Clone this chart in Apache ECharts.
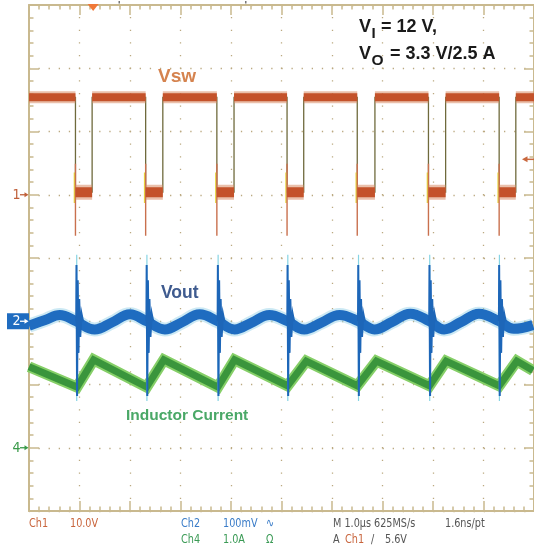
<!DOCTYPE html>
<html>
<head>
<meta charset="utf-8">
<script src="https://cdn.jsdelivr.net/npm/echarts@6/dist/echarts.min.js"></script>
<style>
  html, body { margin: 0; padding: 0; background: #fff; }
  #scope { width: 534px; height: 550px; }
</style>
</head>
<body>
<div id="scope"></div>
<script>
// time base: 1 us/div, 10 divisions across; 8 divisions tall (-4..4)

// Ch1 = Vsw, 10 V/div, ground marker 1 div above centre
const ch1Offset = 1, ch1Scale = 10;
const vswHigh = 15.4, vswLow = 0.4;
const vswFallT = [0.92, 2.31, 3.72, 5.11, 6.50, 7.91, 9.31];
const vswRiseT = [1.25, 2.65, 4.06, 5.44, 6.85, 8.25, 9.64];
const vswSpikeTop = 4.9, vswSpikeBottom = -6.5;
const vswYellowTop = 3.5, vswYellowBottom = -1.3;
const trigLevel = 5.6, trigTime = 1.27;

// Ch2 = Vout ripple, 100 mV/div, marker 1 div below centre
const ch2Offset = -1, ch2Scale = 100;
const voutT  = [0.00, 0.32, 0.61, 0.93, 1.30, 1.64, 2.00, 2.33, 2.69, 3.02, 3.38, 3.74, 4.07, 4.41, 4.76,
                5.12, 5.45, 5.79, 6.15, 6.52, 6.84, 7.19, 7.55, 7.93, 8.22, 8.56, 8.91, 9.31, 9.60, 9.98];
const voutMv = [-7, 2, 10, 0, -13, -2, 11, 0, -13, -2, 11, 0, -13, -2, 10,
                0, -13, -2, 10, 0, -13, -1, 12, 0, -13, -1, 12, 0, -12, -6];
const voutSpikeT = [0.94, 2.33, 3.74, 5.12, 6.52, 7.93, 9.31];
const spikeDt = [-0.005, 0, 0.012, 0.025, 0.04, 0.055, 0.075, 0.1, 0.13];
const spikeMv = [0, 89, -118, 65, -50, 35, -25, 12, 0];
const spikeHaloTop = 105, spikeHaloBottom = -126;

// Ch4 = inductor current, 1 A/div, marker 3 div below centre
const ch4Offset = -3, ch4Scale = 1;
const ilT = [0.00, 0.95, 1.28, 2.33, 2.67, 3.74, 4.07, 5.12, 5.49, 6.50, 6.88, 7.93, 8.26, 9.31, 9.66, 9.98];
const ilA = [1.28, 0.96, 1.39, 0.96, 1.39, 0.96, 1.39, 0.98, 1.37, 0.98, 1.37, 0.98, 1.37, 0.98, 1.37, 1.22];

const gridTan = '#c9b98f';
const dotTan = '#bba980';
const c1 = '#c4522a', c2 = '#1f6cc0', c4 = '#3a953c';

function d1(v) { return ch1Offset + v / ch1Scale; }
function d2(v) { return ch2Offset + v / ch2Scale; }
function d4(v) { return ch4Offset + v / ch4Scale; }

// thin olive edge trace of Vsw
const vswEdges = [[0, d1(vswHigh)]];
vswFallT.forEach((f, i) => {
  vswEdges.push([f, d1(vswHigh)], [f, d1(vswLow)], [vswRiseT[i], d1(vswLow)], [vswRiseT[i], d1(vswHigh)]);
});
vswEdges.push([10, d1(vswHigh)]);

const highStarts = [0, ...vswRiseT], highEnds = [...vswFallT, 10];
const vswHighBand = [];
highStarts.forEach((s, i) => {
  vswHighBand.push([s, d1(vswHigh)], [highEnds[i], d1(vswHigh)], [highEnds[i], '-']);
});
const vswLowBand = [];
vswFallT.forEach((f, i) => {
  vswLowBand.push([f, d1(vswLow)], [vswRiseT[i], d1(vswLow)], [vswRiseT[i], '-']);
});
const vswSpikes = [], vswYellow = [];
vswFallT.forEach(f => {
  vswSpikes.push([f, d1(vswSpikeTop)], [f, d1(vswSpikeBottom)], [f, '-']);
  vswYellow.push([f - 0.02, d1(vswYellowTop)], [f - 0.02, d1(vswYellowBottom)], [f - 0.02, '-']);
});

const voutBase = voutT.map((t, i) => [t, d2(voutMv[i])]);
const voutSpikes = [], voutHalo = [];
voutSpikeT.forEach(ts => {
  spikeDt.forEach((dt, j) => voutSpikes.push([ts + dt, d2(spikeMv[j])]));
  voutSpikes.push([ts + 0.13, '-']);
  voutHalo.push([ts + 0.005, d2(spikeHaloTop)], [ts + 0.005, d2(spikeHaloBottom)], [ts + 0.005, '-']);
});
const ilData = ilT.map((t, i) => [t, d4(ilA[i])]);

function lineSeries(data, color, width, extra) {
  return Object.assign({
    type: 'line', data, showSymbol: false, silent: true,
    lineStyle: { color, width, cap: 'butt', join: 'miter' },
    xAxisIndex: 0, yAxisIndex: 0, animation: false
  }, extra || {});
}

function frameAxis(pos, isX, withSplit, dash) {
  return {
    type: 'value', position: pos,
    min: isX ? 0 : -4, max: isX ? 10 : 4, interval: 1,
    axisLine: { show: true, onZero: false, lineStyle: { color: gridTan, width: 2 } },
    axisTick: { show: true, inside: true, length: 10, lineStyle: { color: gridTan, width: 1.5 } },
    minorTick: { show: true, splitNumber: 5, length: 4.5, lineStyle: { color: gridTan, width: 1.5 } },
    axisLabel: { show: false },
    splitLine: { show: withSplit, lineStyle: { color: dotTan, width: 1.3, type: dash, dashOffset: 0.65 } }
  };
}

const chart = echarts.init(document.getElementById('scope'), null, { renderer: 'canvas' });

const narrow = "'Liberation Sans Narrow', 'DejaVu Sans Condensed', sans-serif";
const bold = "'Liberation Sans', Arial, sans-serif";

function txt(text, x, y, font, fill, squeeze) {
  return { type: 'text', silent: true, z: 100, x, y, scaleX: squeeze || 1,
    style: { text, x: 0, y: 0, font, fill, verticalAlign: 'middle', align: 'left' } };
}

const statusGray = '#555555';
const statusFont = '12.5px ' + narrow;
const sq = 0.86;

const labels = [
  txt('Vsw', 158, 77, 'bold 19px ' + bold, '#d5834f'),
  txt('Vout', 161, 293, 'bold 17.5px ' + bold, '#3f5b8f'),
  txt('Inductor Current', 126, 416, 'bold 15.5px ' + bold, '#4aa867'),
  txt('V', 359, 27, 'bold 18px ' + bold, '#1a1a1a'),
  txt('I', 371.5, 33.5, 'bold 15px ' + bold, '#1a1a1a'),
  txt('= 12 V,', 381, 27, 'bold 18px ' + bold, '#1a1a1a'),
  txt('V', 359, 54, 'bold 18px ' + bold, '#1a1a1a'),
  txt('O', 371.5, 61, 'bold 15.5px ' + bold, '#1a1a1a'),
  txt('= 3.3 V/2.5 A', 390, 54, 'bold 18px ' + bold, '#1a1a1a'),

  txt('Ch1', 29, 524, statusFont, '#c8643c', sq),
  txt('10.0V', 70, 524, statusFont, '#c8643c', sq),
  txt('Ch2', 181, 524, statusFont, '#3a7cc8', sq),
  txt('100mV', 223, 524, statusFont, '#3a7cc8', sq),
  txt('\u223F', 266, 524, statusFont, '#3a7cc8', sq),
  txt('Ch4', 181, 540, statusFont, '#3a9a55', sq),
  txt('1.0A', 223, 540, statusFont, '#3a9a55', sq),
  txt('\u03A9', 266, 540, statusFont, '#3a9a55', sq),
  txt('M 1.0\u00B5s 625MS/s', 333, 524, statusFont, statusGray, sq),
  txt('1.6ns/pt', 445, 524, statusFont, statusGray, sq),
  txt('A', 333, 540, statusFont, statusGray, sq),
  txt('Ch1', 345, 540, statusFont, '#c8643c', sq),
  txt('\u2215', 371, 540, statusFont, statusGray, sq),
  txt('5.6V', 385, 540, statusFont, statusGray, sq)
];

chart.setOption({
  animation: false,
  backgroundColor: '#ffffff',
  grid: { left: 29, top: 5, width: 506, height: 506, containLabel: false },
  xAxis: [frameAxis('bottom', true, true, [1.3, 11.35]), frameAxis('top', true, false)],
  yAxis: [frameAxis('left', false, true, [1.3, 8.82]), frameAxis('right', false, false)],
  series: [
    lineSeries(vswEdges, '#6f6a3c', 1.3),
    lineSeries(vswYellow, '#e6d640', 1.5),
    lineSeries(vswSpikes, '#c9704e', 1.4),
    lineSeries(vswHighBand, '#d98c66', 12, { lineStyle: { color: '#d98c66', width: 12, cap: 'butt', opacity: 0.55 } }),
    lineSeries(vswHighBand, c1, 8),
    lineSeries(vswLowBand, '#d98c66', 15, { lineStyle: { color: '#d98c66', width: 15, cap: 'butt', opacity: 0.55 } }),
    lineSeries(vswLowBand, c1, 10),
    lineSeries(ilData, '#86cf68', 11),
    lineSeries(ilData, c4, 7),
    lineSeries(voutBase, '#8fcfe6', 14, { smooth: 0.4, lineStyle: { color: '#8fcfe6', width: 14, opacity: 0.45 } }),
    lineSeries(voutBase, c2, 10, { smooth: 0.4 }),
    lineSeries(voutHalo, '#86d4e4', 1.2),
    lineSeries(voutSpikes, '#1d66b8', 2)
  ]
});

// channel markers placed through the axes
function px(t, v) { return chart.convertToPixel({ gridIndex: 0 }, [t, v]); }
function chMarker(label, y, color, boxed) {
  const els = [];
  const fg = boxed ? '#ffffff' : color;
  if (boxed) els.push({ type: 'rect', silent: true, z: 100, shape: { x: 7, y: y - 8, width: 22, height: 16 }, style: { fill: color } });
  els.push(txt(label, 12.5, y + 0.5, '14px ' + narrow, fg));
  els.push({ type: 'line', silent: true, z: 101, shape: { x1: 20, y1: y, x2: 25, y2: y }, style: { stroke: fg, lineWidth: 1.3 } });
  els.push({ type: 'polygon', silent: true, z: 101, shape: { points: [[24.5, y - 2.5], [28.5, y], [24.5, y + 2.5]] }, style: { fill: fg } });
  return els;
}
const y1 = px(0, ch1Offset)[1], y2 = px(0, ch2Offset)[1], y4 = px(0, ch4Offset)[1];
const yTrig = px(0, d1(trigLevel))[1];
const xTrig = px(trigTime, 0)[0];
const frameTop = px(0, 4)[1];

chart.setOption({
  graphic: [
    ...labels,
    ...chMarker('1', y1, '#c0603a', false),
    ...chMarker('2', y2, c2, true),
    ...chMarker('4', y4, '#3a9a4a', false),
    { type: 'line', silent: true, z: 101, shape: { x1: 527, y1: yTrig, x2: 534, y2: yTrig }, style: { stroke: '#c9683e', lineWidth: 1.5 } },
    { type: 'polygon', silent: true, z: 101, shape: { points: [[527.5, yTrig - 3], [522, yTrig], [527.5, yTrig + 3]] }, style: { fill: '#c9683e' } },
    { type: 'polygon', silent: true, z: 101, shape: { points: [[xTrig - 5.5, frameTop - 1], [xTrig + 5.5, frameTop - 1], [xTrig, frameTop + 6]] }, style: { fill: '#f07838' } },
    { type: 'rect', silent: true, z: 101, shape: { x: 118.5, y: 1, width: 1.5, height: 2.5 }, style: { fill: '#777' } },
    { type: 'rect', silent: true, z: 101, shape: { x: 245, y: 1, width: 1.5, height: 2.5 }, style: { fill: '#777' } }
  ]
});
</script>
</body>
</html>
